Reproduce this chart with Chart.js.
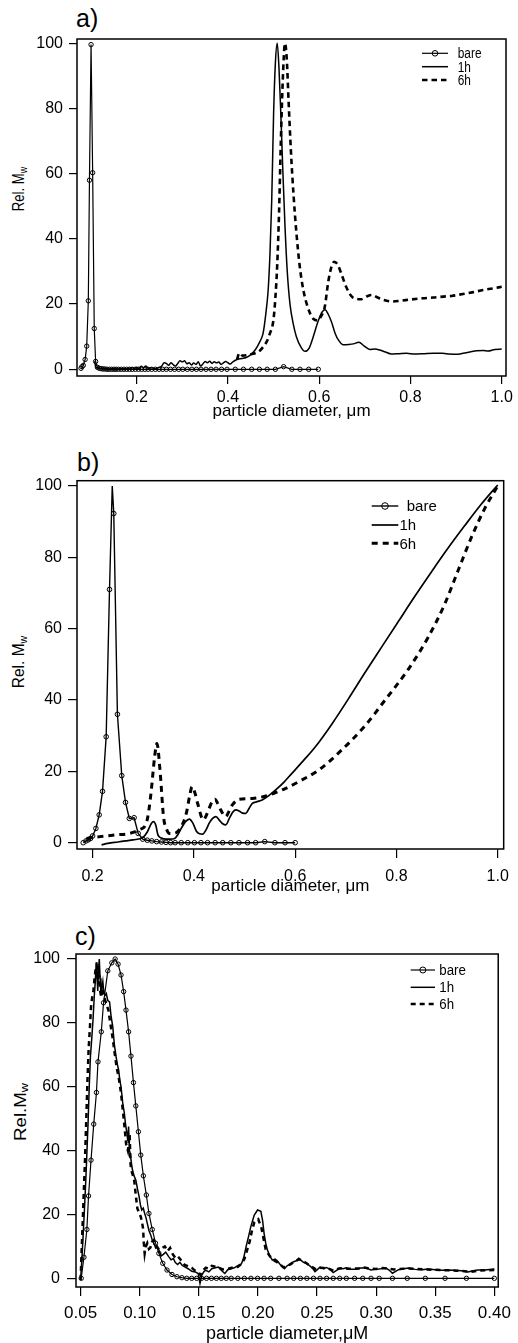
<!DOCTYPE html>
<html><head><meta charset="utf-8">
<script src="https://cdn.jsdelivr.net/npm/chart.js@4.4.1/dist/chart.umd.min.js"></script>
<style>
html,body{margin:0;padding:0;background:#fff;}
body{width:518px;height:1343px;position:relative;overflow:hidden;font-family:"Liberation Sans",Arial,Helvetica,sans-serif;color:#000;}
canvas{position:absolute;left:0;}
.lbl{position:absolute;font-size:25px;line-height:1;white-space:nowrap;}
.yt{position:absolute;line-height:1;white-space:nowrap;transform-origin:50% 50%;}
.yt sub{font-size:0.68em;vertical-align:-0.25em;line-height:0;}
</style></head><body>
<div class="lbl" style="left:76px;top:6px;">a)</div>
<div class="lbl" style="left:77px;top:450px;">b)</div>
<div class="lbl" style="left:75px;top:924px;">c)</div>
<div class="yt" style="left:19px;top:189px;font-size:16px;transform:translate(-50%,-50%) rotate(-90deg) scaleX(0.82);">Rel. M<sub>w</sub></div>
<div class="yt" style="left:19px;top:662px;font-size:16px;transform:translate(-50%,-50%) rotate(-90deg) scaleX(0.97);">Rel. M<sub>w</sub></div>
<div class="yt" style="left:20px;top:1112px;font-size:17px;transform:translate(-50%,-50%) rotate(-90deg) scaleX(1.1);">Rel.M<sub>w</sub></div>
<canvas id="ca" width="518" height="430" style="top:0px"></canvas>
<canvas id="cb" width="518" height="460" style="top:440px"></canvas>
<canvas id="cc" width="518" height="450" style="top:900px"></canvas>
<script>
// ---------------- DATA ----------------
const seriesLabels = ['bare', '1h', '6h'];
const yTicks = [0, 20, 40, 60, 80, 100];
const abXTicks = [0.2, 0.4, 0.6, 0.8, 1.0];
const cXTicks = [0.05, 0.10, 0.15, 0.20, 0.25, 0.30, 0.35, 0.40];

// Panel a
const aBareX = [
0.078,0.080,0.083,0.087,0.0905,0.094,0.0965,0.100,0.1035,0.107,
0.110,0.114,0.118,0.122,0.126,0.130,0.135,0.140,0.145,0.150,
0.155,0.160,0.166,0.172,0.178,0.184,0.190,0.197,0.204,0.211,
0.218,0.225,0.233,0.241,0.249,0.257,0.265,0.274,0.283,0.292,
0.301,0.311,0.321,0.331,0.341,0.352,0.363,0.374,0.386,0.398,
0.416,0.434,0.452,0.469,0.486,0.504,0.522,0.540,0.558,0.577,
0.598];
const aBareY = [
0.3,0.8,1.2,3.0,7.1,21,58,99.6,60.3,12.5,
2.4,0.6,0.3,0.2,0.1,0.1,0,0,0,0,
0,0,0,0,0,0,0,0,0,0,
0,0,0,0,0,0,0,0,0,0,
0,0,0,0,0,0,0,0,0,0,
0,0,0,0,0,0,0.8,0,0,0,
0];
const a1hX = [
0.108,0.110,0.114,0.120,0.130,0.140,0.150,0.160,0.170,0.180,
0.190,0.195,0.200,0.205,0.210,0.215,0.220,0.225,0.230,0.240,
0.250,0.255,0.260,0.265,0.270,0.275,0.280,0.285,0.290,0.295,
0.300,0.305,0.310,0.315,0.320,0.325,0.330,0.335,0.340,0.345,
0.350,0.355,0.360,0.365,0.370,0.375,0.380,0.385,0.390,0.395,
0.400,0.405,0.410,0.420,0.430,0.440,0.450,0.460,0.470,0.477,
0.483,0.488,0.492,0.496,0.500,0.504,0.508,0.512,0.516,0.520,
0.525,0.530,0.536,0.543,0.550,0.560,0.569,0.578,0.587,0.597,
0.606,0.613,0.620,0.627,0.635,0.642,0.653,0.665,0.675,0.687,
0.698,0.711,0.722,0.733,0.745,0.758,0.775,0.791,0.810,0.830,
0.850,0.870,0.885,0.900,0.915,0.930,0.945,0.960,0.970,0.985,
1.000];
const a1hY = [
2.5,0.8,0.4,0.3,0.2,0.1,0.2,0.1,0.2,0.1,
0.5,0.2,0.6,0.3,0.9,0.5,1.0,0.3,0.5,0.2,
0.6,1.0,2.0,1.8,1.2,2.0,1.4,1.0,1.8,2.6,
2.3,2.6,1.7,2.0,1.3,1.9,1.5,2.3,1.0,1.6,
2.4,2.0,2.5,1.8,2.3,2.0,2.2,1.5,2.0,2.4,
2.0,1.6,2.2,3.0,3.3,3.6,4.5,6.0,8.5,11,
17,24,35,52,78,94,100,92,78,62,
44,30,20,14,10,6.8,5.5,6.5,10,14.5,
17.5,18.3,16.8,14.5,11,9,7.5,7.6,7.8,8.3,
7.2,6.1,6.2,5.9,5.3,4.7,4.8,4.9,4.7,4.8,
4.9,4.9,4.7,4.6,4.9,5.3,5.7,5.8,5.6,6.1,
6.2];
const a6hX = [
0.420,0.425,0.432,0.440,0.450,0.459,0.468,0.475,0.485,0.492,
0.4996,0.504,0.508,0.512,0.516,0.520,0.525,0.529,0.533,0.538,
0.544,0.550,0.557,0.565,0.575,0.587,0.597,0.605,0.612,0.620,
0.627,0.633,0.640,0.648,0.660,0.674,0.692,0.705,0.715,0.728,
0.740,0.760,0.777,0.800,0.828,0.850,0.872,0.890,0.915,0.935,
0.959,0.980,1.000];
const a6hY = [
3.0,5.0,4.2,4.3,4.6,4.9,5.5,6.5,8.5,11,
15,22,32,48,70,88,100,95,82,67,
53,42,32,24.5,19,15.5,15,16.5,19,27,
31.5,33,32.2,29.5,25,22,21.5,22.4,22.8,22,
21.3,20.8,21,21.4,21.8,22,22.3,22.5,23.1,23.6,
24.3,24.8,25.3];

// Panel b
const bBareX = [
0.1815,0.187,0.1915,0.196,0.200,0.2065,0.213,0.2196,0.2268,0.2334,
0.2388,0.2418,0.249,0.2576,0.265,0.2725,0.282,0.290,0.299,0.308,
0.317,0.3265,0.336,0.345,0.354,0.363,0.375,0.388,0.401,0.414,
0.427,0.442,0.457,0.473,0.489,0.506,0.522,0.540,0.560,0.580,
0.600];
const bBareY = [
0,0.5,0.8,1.2,1.9,4,7.8,14.4,29.7,71,
100,92.3,36,18.8,11.3,6.8,7.0,2.6,1.0,0.7,
0.5,0.3,0.2,0.1,0,0,0,0,0,0,
0,0,0,0,0,0,0,0.3,0,0,
0];
const bBareNoMarker = [10];
const b1hX = [
0.2177,0.230,0.250,0.265,0.280,0.2995,0.308,0.316,0.3205,0.325,
0.329,0.336,0.345,0.353,0.362,0.369,0.375,0.383,0.391,0.398,
0.405,0.411,0.4174,0.424,0.430,0.437,0.4436,0.451,0.457,0.463,
0.470,0.477,0.483,0.490,0.496,0.5026,0.509,0.5155,0.525,0.535,
0.548,0.5615,0.578,0.594,0.615,0.640,0.6727,0.7055,0.738,0.771,
0.8037,0.836,0.869,0.902,0.935,0.967,1.000];
const b1hY = [
-0.6,-0.2,0.2,0.5,0.8,1.5,3.0,5.4,5.9,4.8,
2.2,1.3,1.0,1.0,1.2,2.4,4.0,5.8,6.6,5.5,
3.2,2.5,2.4,3.6,5.4,6.8,7.3,6.2,5.3,5.0,
6.8,8.6,9.2,8.8,8.3,8.2,9.6,11,11.5,12,
13.2,14.8,17,19.5,22.8,26.9,33.3,40.4,47.7,54.9,
62.0,69.0,75.9,82.6,88.9,94.8,100.3];
const b6hX = [
0.188,0.2143,0.247,0.273,0.293,0.306,0.311,0.316,0.3224,0.327,
0.3336,0.340,0.346,0.352,0.360,0.368,0.377,0.385,0.3915,0.3965,
0.402,0.4075,0.4187,0.424,0.429,0.436,0.442,0.447,0.453,0.463,
0.470,0.476,0.4895,0.5155,0.542,0.5745,0.607,0.6467,0.692,0.738,
0.7776,0.8234,0.8627,0.895,0.9218,0.948,0.974,1.000];
const b6hY = [
1.2,1.7,2.2,2.6,3.7,5.4,9,14.8,24,27.8,
19.5,7.3,3.8,2.6,2.6,3.1,5.0,8.2,13,15.7,
14,11,6.4,7.5,9.2,11.5,12.2,11,9.2,7.3,
9,10.6,12.2,12.4,13.1,14.8,17.1,20.4,26,32.8,
40,48.6,57.6,66.8,76.3,85.6,93.6,100];

// Panel c
const cBareX = [
0.0505,0.0528,0.0553,0.0567,0.0588,0.0611,0.0634,0.0647,0.0675,0.0694,
0.0730,0.0764,0.0792,0.0817,0.0842,0.0864,0.0884,0.0906,0.0926,0.0947,
0.0967,0.0989,0.1009,0.1031,0.1056,0.1078,0.1106,0.1134,0.1162,0.1195,
0.1231,0.1273,0.1315,0.1357,0.1398,0.1440,0.1482,0.1524,0.1565,0.1607,
0.1649,0.1690,0.1732,0.1774,0.1830,0.1885,0.1941,0.1997,0.2052,0.2108,
0.2178,0.2247,0.2303,0.2359,0.2414,0.2470,0.2525,0.2581,0.2637,0.2692,
0.2748,0.2818,0.2887,0.2957,0.3026,0.3138,0.3263,0.3416,0.3583,0.3764,
0.4000];
const cBareY = [
0,6.6,15.3,25.8,37,48.3,58.2,67.8,77.2,86.3,
96.3,98.8,100,98.4,95,89.8,84,77.2,69.6,61.3,
54,45.9,38.6,32.1,26.1,20.3,15.3,11,7.8,4.7,
2.6,1.2,0.5,0.2,0,0,0,0,0,0,
0,0,0,0,0,0,0,0,0,0,
0,0,0,0,0,0,0,0,0,0,
0,0,0,0,0,0,0,0,0,0,
0];
const c1hX = [
0.0500,0.0511,0.0522,0.0533,0.0544,0.0554,0.0564,0.0573,0.0583,0.0594,
0.0605,0.0615,0.0625,0.0632,0.0638,0.0645,0.0652,0.0658,0.0665,0.0672,
0.0680,0.0688,0.0695,0.0705,0.0717,0.0730,0.0745,0.0758,0.0772,0.0786,
0.0800,0.0811,0.0822,0.0832,0.0842,0.0856,0.0870,0.0881,0.0892,0.0899,
0.0906,0.0913,0.0920,0.0930,0.0939,0.0953,0.0967,0.0981,0.0995,0.1006,
0.1017,0.1030,0.1042,0.1053,0.1064,0.1078,0.1093,0.1106,0.1120,0.1135,
0.1150,0.1162,0.1180,0.1200,0.1220,0.1245,0.1265,0.1285,0.1300,0.1320,
0.1340,0.1360,0.1385,0.1410,0.1440,0.1470,0.1495,0.1510,0.1525,0.1545,
0.1560,0.1585,0.1610,0.1640,0.1667,0.1690,0.1720,0.1745,0.1774,0.1800,
0.1830,0.1860,0.1880,0.1900,0.1920,0.1940,0.1969,0.1997,0.2025,0.2040,
0.2052,0.2066,0.2080,0.2100,0.2122,0.2145,0.2164,0.2185,0.2205,0.2225,
0.2247,0.2275,0.2303,0.2325,0.2344,0.2365,0.2386,0.2415,0.2442,0.2465,
0.2483,0.2505,0.2525,0.2555,0.2580,0.2610,0.2637,0.2665,0.2692,0.2720,
0.2748,0.2790,0.2830,0.2870,0.2915,0.2955,0.2998,0.3040,0.3080,0.3110,
0.3138,0.3165,0.3190,0.3230,0.3276,0.3330,0.3387,0.3440,0.3500,0.3555,
0.3610,0.3660,0.3720,0.3777,0.3820,0.3860,0.3920,0.4000];
const c1hY = [
-0.5,6,14,22,30.8,40,49.6,60,69.4,75,
80.9,88,93.4,99,95,90,97,100,94,89,
91,93,90,88.5,89.2,87,86.6,82,78.8,73,
69.4,67,65.2,62,60,55,51.7,48,45.4,43,
47.5,40,39.1,36,33.9,32,30.8,28,25.6,23,
21.4,22,20.3,19,17.2,15,13.6,12,11,9.5,
10,8.9,7,7.5,8.2,6.8,5.8,6.2,5.0,4.3,
5.0,4.0,3.5,3.0,2.2,2.0,1.5,-1.6,1.0,2.2,
2.5,2.0,3.0,3.3,3.5,2.5,1.5,2.7,3.0,3.3,
4.0,4.5,6.5,9.9,13,16.2,19.8,21.4,21,18,
14.1,11,8.9,7,5.7,6,5.5,4.5,3.6,3.0,
3.9,4.5,5.2,5.5,6.3,5.6,5.0,4.6,3.8,3.0,
2.1,2.8,3.5,3.0,3.4,2.8,1.8,2.5,3.2,3.0,
3.3,2.8,2.8,3.2,3.3,2.6,2.8,3.0,3.3,2.6,
1.6,2.2,2.7,3.0,3.2,2.8,2.7,2.9,2.7,2.5,
2.6,2.5,2.4,2.0,2.4,2.6,2.6,2.9];
const c6hX = [
0.0500,0.0508,0.0518,0.0528,0.0538,0.0548,0.0558,0.0568,0.0578,0.0588,
0.0598,0.0608,0.0618,0.0628,0.0636,0.0643,0.0650,0.0658,0.0665,0.0675,
0.0688,0.0700,0.0717,0.0735,0.0755,0.0772,0.0790,0.0805,0.0822,0.0842,
0.0856,0.0870,0.0885,0.0900,0.0915,0.0922,0.0928,0.0940,0.0953,0.0967,
0.0980,0.0995,0.1009,0.1020,0.1028,0.1035,0.1042,0.1052,0.1064,0.1078,
0.1090,0.1105,0.1120,0.1135,0.1150,0.1170,0.1190,0.1212,0.1235,0.1257,
0.1280,0.1300,0.1320,0.1343,0.1360,0.1380,0.1410,0.1440,0.1465,0.1490,
0.1515,0.1535,0.1560,0.1585,0.1610,0.1640,0.1667,0.1700,0.1750,0.1790,
0.1830,0.1860,0.1885,0.1910,0.1930,0.1950,0.1970,0.2003,0.2030,0.2050,
0.2066,0.2090,0.2110,0.2140,0.2165,0.2190,0.2215,0.2240,0.2270,0.2300,
0.2330,0.2350,0.2375,0.2400,0.2430,0.2460,0.2490,0.2520,0.2560,0.2600,
0.2640,0.2680,0.2720,0.2760,0.2800,0.2850,0.2900,0.2950,0.3000,0.3050,
0.3100,0.3150,0.3200,0.3260,0.3330,0.3400,0.3470,0.3540,0.3610,0.3680,
0.3750,0.3800,0.3860,0.3930,0.4000];
const c6hY = [
-0.5,8,18,28,38,50,62,72,78,85,
88,90,94,97,98,97.5,92,95,90,88,
91,88,86,84,79,75,70,66,63,58,
53,48,42,40,45,36,33.9,32.5,30.8,26,
21.9,20.5,19.3,17.5,15.7,11,7.8,10,11,9.2,
9.6,11.5,12,10.5,9.5,9,9.5,10,8.5,9.5,
7.5,6.5,7,6,5,4.2,3.8,3.3,2.5,2.0,
1.0,2.5,3.3,3.0,3.9,3.6,3.4,2.8,3.0,3.4,
3.6,4.5,6,9,11.5,15,17.6,18.5,15.7,12,
9,7.5,6.5,5.5,5,4.3,3.5,3.6,4.3,5.0,
5.6,6.0,5.4,5.0,4.2,3.5,2.8,3.3,3.2,3.0,
2.4,3.0,3.2,3.0,3.0,3.1,3.4,3.0,2.9,3.2,
3.0,2.8,2.9,3.1,3.0,2.8,2.7,2.6,2.5,2.4,
2.2,2.0,2.4,2.5,2.6];

// ---------------- RENDER ----------------
const FONT = '"Liberation Sans", Arial, Helvetica, sans-serif';

function zip(xs, ys) {
  if (xs.length !== ys.length) throw new Error('length mismatch ' + xs.length + ' vs ' + ys.length);
  return xs.map((x, i) => ({ x: x, y: ys[i] }));
}

const frame = {
  id: 'frame',
  afterDraw(chart, args, o) {
    const ctx = chart.ctx, a = chart.chartArea;
    ctx.save();
    ctx.strokeStyle = '#000';
    ctx.lineWidth = o.boxWidth;
    ctx.strokeRect(a.left, a.top, a.right - a.left, a.bottom - a.top);
    chart.data.datasets.forEach((ds, i) => {
      const y = o.rows[i];
      ctx.beginPath();
      ctx.setLineDash(ds.borderDash || []);
      ctx.lineWidth = ds.borderWidth;
      ctx.moveTo(o.x0, y); ctx.lineTo(o.x1, y); ctx.stroke();
      ctx.setLineDash([]);
      if (ds.legendMarker) {
        ctx.beginPath(); ctx.lineWidth = 1;
        ctx.arc((o.x0 + o.x1) / 2, y, o.markerR, 0, Math.PI * 2); ctx.stroke();
      }
      ctx.save();
      ctx.font = o.fontSize + 'px ' + FONT;
      ctx.fillStyle = '#000'; ctx.textBaseline = 'alphabetic'; ctx.textAlign = 'left';
      ctx.translate(o.textX[i], y + o.fontSize * 0.358);
      ctx.scale(o.textScale, 1);
      ctx.fillText(ds.label, 0, 0);
      ctx.restore();
    });
    ctx.restore();
  }
};

function mkSets(bare, h1, h6, st, noMarker) {
  return [
    { label: seriesLabels[0], data: bare, showLine: true, legendMarker: true,
      borderColor: '#000', borderWidth: st.bareW, tension: 0,
      pointStyle: 'circle', pointBorderColor: '#000', pointBackgroundColor: 'rgba(255,255,255,0)',
      pointBorderWidth: 1,
      pointRadius: c => (noMarker && noMarker.includes(c.dataIndex)) ? 0 : st.markR },
    { label: seriesLabels[1], data: h1, showLine: true, borderColor: '#000', borderWidth: st.solidW,
      pointRadius: 0, cubicInterpolationMode: st.smooth ? 'monotone' : 'default', tension: 0 },
    { label: seriesLabels[2], data: h6, showLine: true, borderColor: '#000', borderWidth: st.dashW,
      borderDash: st.dash, pointRadius: 0, cubicInterpolationMode: st.smooth ? 'monotone' : 'default', tension: 0 }
  ];
}

function panel(id, p) {
  return new Chart(document.getElementById(id), {
    type: 'scatter',
    data: { datasets: p.datasets },
    options: {
      responsive: false, animation: false, events: [],
      layout: { padding: { left: 0, top: p.top, right: p.right, bottom: 0 } },
      plugins: { legend: { display: false }, tooltip: { enabled: false }, frame: p.legend },
      scales: {
        x: {
          type: 'linear', position: 'bottom', min: p.xMin, max: p.xMax,
          afterBuildTicks: s => { s.ticks = p.xTicks.map(v => ({ value: v })); },
          afterFit: s => { s.height = p.xAxisH; },
          border: { display: false },
          grid: { display: true, drawOnChartArea: false, drawTicks: true, tickLength: p.tickLen, color: '#000', lineWidth: 1.2 },
          ticks: { color: '#000', padding: p.xTickPad, maxRotation: 0, autoSkip: false,
                   font: { family: FONT, size: p.xTickSize }, callback: v => Number(v).toFixed(p.xDec) },
          title: { display: true, text: p.xTitle, color: '#000', font: { family: FONT, size: p.xTitleSize },
                   padding: { top: 0, bottom: p.xTitlePad } }
        },
        y: {
          type: 'linear', position: 'left', min: p.yMin, max: p.yMax,
          afterBuildTicks: s => { s.ticks = yTicks.map(v => ({ value: v })); },
          afterFit: s => { s.width = p.yAxisW; },
          border: { display: false },
          grid: { display: true, drawOnChartArea: false, drawTicks: true, tickLength: p.tickLen, color: '#000', lineWidth: 1.2 },
          ticks: { color: '#000', padding: p.yTickPad, autoSkip: false,
                   font: { family: FONT, size: p.yTickSize }, callback: v => String(Math.round(v)) },
          title: { display: false }
        }
      }
    },
    plugins: [frame]
  });
}

panel('ca', {
  datasets: mkSets(zip(aBareX, aBareY), zip(a1hX, a1hY), zip(a6hX, a6hY),
    { bareW: 1.2, markR: 2.2, solidW: 1.5, dashW: 2.6, dash: [5.5, 4], smooth: true }),
  top: 39, right: 12, yAxisW: 77, xAxisH: 54,
  xMin: 0.0692, xMax: 1.0094, yMin: -2.06, yMax: 101.32,
  xTicks: abXTicks, xDec: 1, tickLen: 8, xTickPad: 4, xTickSize: 16,
  xTitle: 'particle diameter, \u03bcm', xTitleSize: 17, xTitlePad: 8,
  yTickPad: 6, yTickSize: 16,
  legend: { boxWidth: 1.5, x0: 422, x1: 448, markerR: 2.8, rows: [53.3, 66.7, 80],
            textX: [457.7, 457.7, 457.7], fontSize: 14, textScale: 0.85 }
});

panel('cb', {
  datasets: mkSets(zip(bBareX, bBareY), zip(b1hX, b1hY), zip(b6hX, b6hY),
    { bareW: 1.4, markR: 2.3, solidW: 1.7, dashW: 3, dash: [6, 5], smooth: true }, bBareNoMarker),
  top: 40.7, right: 12, yAxisW: 77, xAxisH: 51,
  xMin: 0.1692, xMax: 1.0118, yMin: -1.77, yMax: 101.49,
  xTicks: abXTicks, xDec: 1, tickLen: 9, xTickPad: 9, xTickSize: 16,
  xTitle: 'particle diameter, \u03bcm', xTitleSize: 17, xTitlePad: 3,
  yTickPad: 6, yTickSize: 16,
  legend: { boxWidth: 1.5, x0: 371.7, x1: 398.3, markerR: 3.3, rows: [66, 85, 103.3],
            textX: [406.7, 399.5, 399.5], fontSize: 15, textScale: 1 }
});

panel('cc', {
  datasets: mkSets(zip(cBareX, cBareY), zip(c1hX, c1hY), zip(c6hX, c6hY),
    { bareW: 1.2, markR: 2.2, solidW: 1.5, dashW: 2.5, dash: [5, 4], smooth: false }),
  top: 54, right: 14, yAxisW: 76, xAxisH: 63,
  xMin: 0.0461, xMax: 0.4033, yMin: -2.72, yMax: 101.57,
  xTicks: cXTicks, xDec: 2, tickLen: 9, xTickPad: 7, xTickSize: 17,
  xTitle: 'particle diameter,\u03bcM', xTitleSize: 18, xTitlePad: 5.5,
  yTickPad: 7, yTickSize: 16,
  legend: { boxWidth: 1.5, x0: 410.7, x1: 435, markerR: 3, rows: [70, 87.3, 104],
            textX: [439.3, 439.3, 439.3], fontSize: 14, textScale: 0.95 }
});
</script>
</body></html>
